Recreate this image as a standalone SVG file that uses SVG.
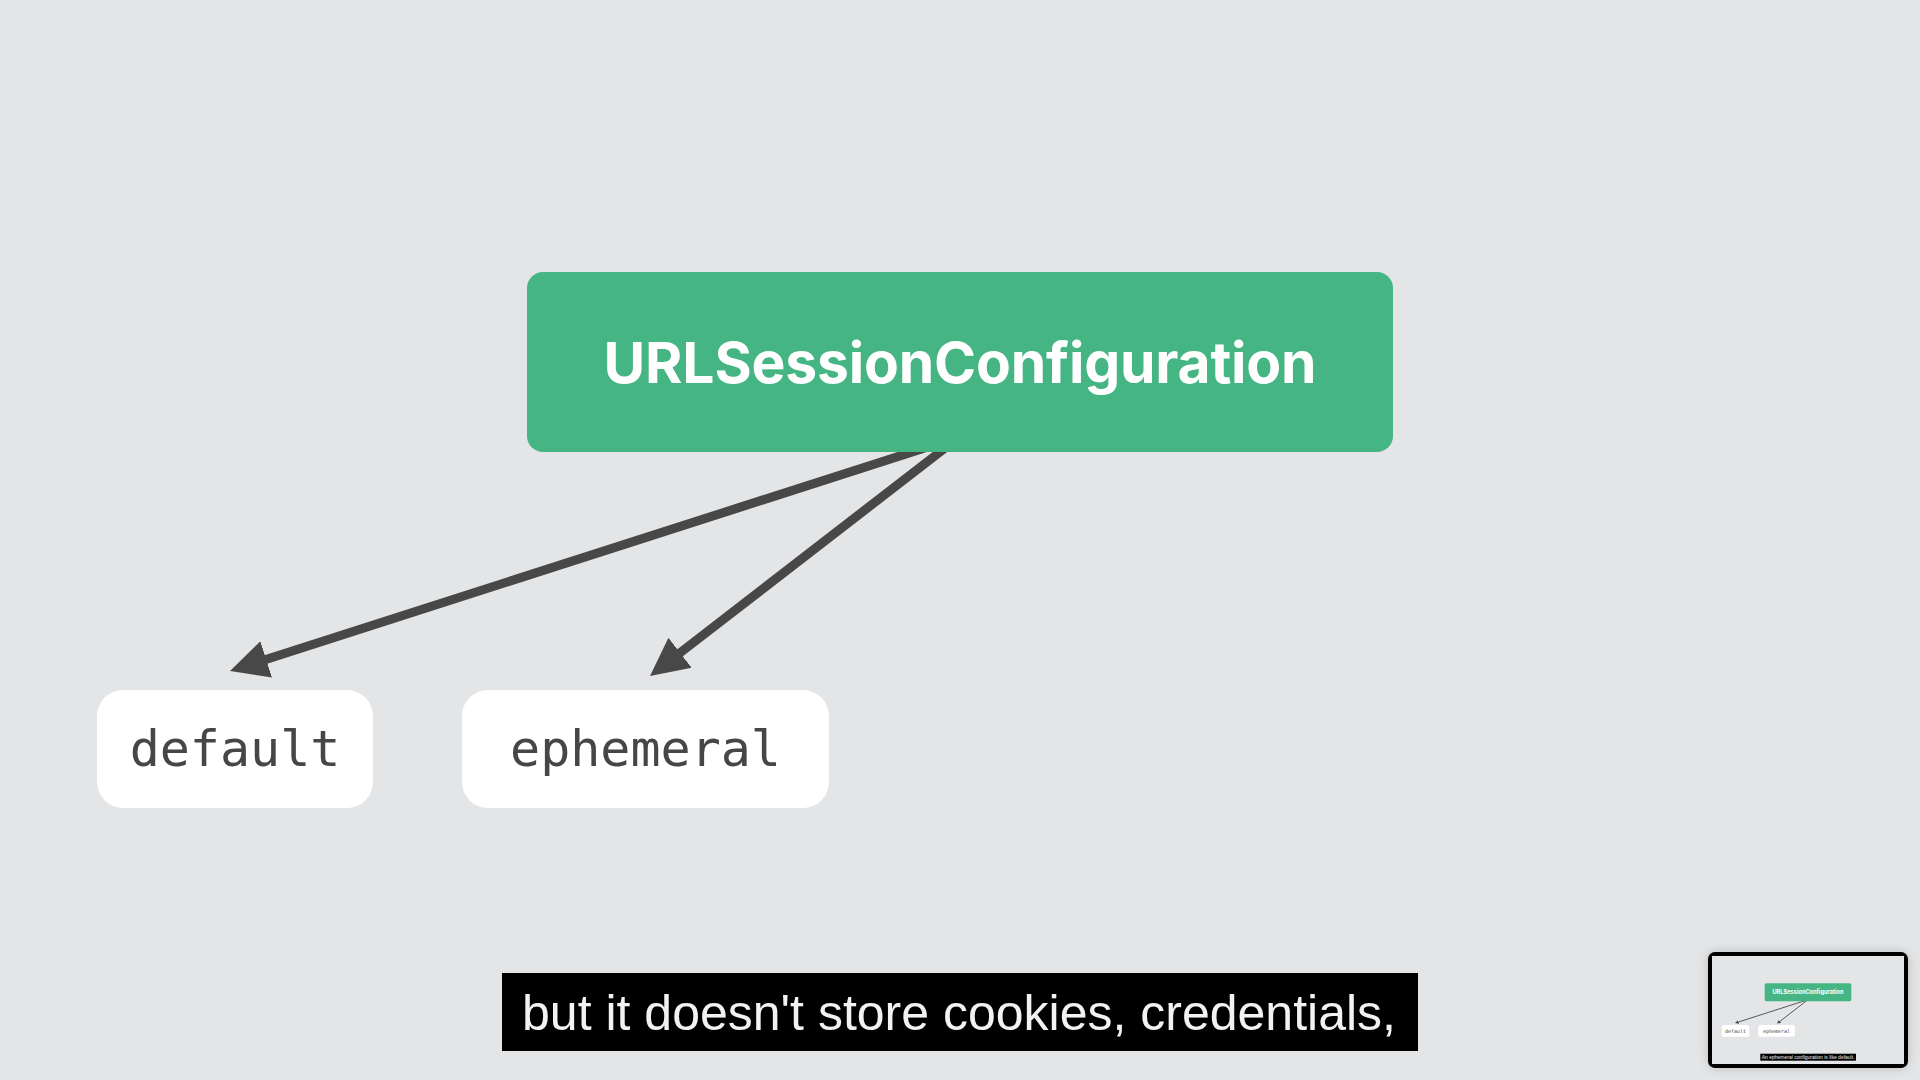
<svg xmlns="http://www.w3.org/2000/svg" xmlns:xlink="http://www.w3.org/1999/xlink" width="1920" height="1080" viewBox="0 0 1920 1080">
  <defs>
    <style>
      .bg { fill: #e4e5e7; }
      .root-box { fill: #45b584; }
      .root-label { font-family: Inter, "Liberation Sans", sans-serif; font-weight: 700; font-size: 57px; fill: #ffffff; text-anchor: middle; letter-spacing: -0.2px; }
      .leaf-box { fill: #ffffff; }
      .leaf-label { font-family: "DejaVu Sans Mono", "Liberation Mono", monospace; font-size: 50px; fill: #464646; text-anchor: middle; }
      .edge { stroke: #484848; stroke-width: 9; fill: none; marker-end: url(#arrow); }
      .caption-box { fill: #000000; }
      .caption { font-family: "Liberation Sans", Arial, sans-serif; font-size: 50px; fill: #f2f2f2; text-anchor: middle; }
    </style>
    <marker id="arrow" markerUnits="userSpaceOnUse" markerWidth="40" markerHeight="40" viewBox="0 0 40 40" refX="2" refY="20" orient="auto">
      <path d="M0,1 L38,20 L0,39 Z" fill="#484848"/>
    </marker>
    <filter id="thumbShadow" x="-20%" y="-30%" width="140%" height="160%">
      <feGaussianBlur in="SourceAlpha" stdDeviation="6"/>
      <feComponentTransfer><feFuncA type="linear" slope="0.18"/></feComponentTransfer>
      <feMerge><feMergeNode/><feMergeNode in="SourceGraphic"/></feMerge>
    </filter>
  </defs>

  <rect class="bg" x="0" y="0" width="1920" height="1080"/>

  <g id="scene">
    <!-- edges start under the parent box, so they are drawn first -->
    <g id="connectors">
      <line class="edge" x1="934" y1="445" x2="264.3" y2="660"/>
      <line class="edge" x1="949" y1="445" x2="678.5" y2="654"/>
    </g>

    <g id="node-urlsessionconfiguration">
      <rect class="root-box" x="527" y="272" width="866" height="180" rx="16"/>
      <text class="root-label" x="960" y="383">URLSessionConfiguration</text>
    </g>

    <g id="node-default">
      <rect class="leaf-box" x="97" y="690" width="276" height="118" rx="26"/>
      <text class="leaf-label" x="235" y="766">default</text>
    </g>

    <g id="node-ephemeral">
      <rect class="leaf-box" x="462" y="690" width="367" height="118" rx="26"/>
      <text class="leaf-label" x="645.5" y="766">ephemeral</text>
    </g>
  </g>

  <!-- caption bar -->
  <g id="caption">
    <rect class="caption-box" x="502" y="973" width="916" height="78"/>
    <text class="caption" x="959" y="1030">but it doesn't store cookies, credentials,</text>
  </g>

  <!-- miniature preview in the corner -->
  <g id="thumbnail">
    <rect x="1708" y="952" width="200" height="116" rx="7" fill="#000000" filter="url(#thumbShadow)"/>
    <svg x="1712" y="956" width="192" height="108" viewBox="0 0 1920 1080">
      <rect class="bg" x="0" y="0" width="1920" height="1080"/>
      <use xlink:href="#scene" href="#scene"/>
      <rect class="caption-box" x="483" y="977" width="957" height="70"/>
      <text class="caption" x="961" y="1028">An ephemeral configuration is like default.</text>
    </svg>
  </g>
</svg>
